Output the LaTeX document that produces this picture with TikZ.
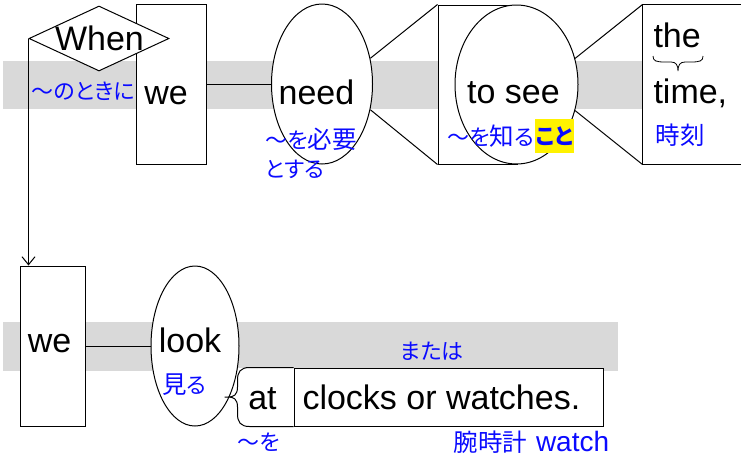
\documentclass[tikz,border=0pt]{standalone}
\usepackage{fontspec}
\setmainfont{Liberation Sans}
\newfontfamily\jpfont[RawFeature=+palt]{Noto Sans CJK JP}
\newcommand\kj[1]{{\fontsize{24.5}{28}\selectfont #1}}
\usetikzlibrary{shapes.geometric,calc,arrows.meta}
\definecolor{bandgray}{RGB}{217,217,217}
\definecolor{jpblue}{RGB}{10,10,255}
\begin{document}
\begin{tikzpicture}[x=1pt,y=-1pt, line width=1pt,
  en/.style={font=\fontsize{34}{40}\selectfont, inner sep=0pt, anchor=base},
  jp/.style={font=\jpfont\fontsize{22}{26}\selectfont, text=jpblue, inner sep=0pt, anchor=west},
  box/.style={draw, fill=white, rectangle, inner sep=0pt},
  oval/.style={draw, fill=white, ellipse, inner sep=0pt},
  plain/.style={rectangle, fill=white, inner sep=0pt}]
\useasboundingbox (0,0) rectangle (741,459);
% bands
\fill[bandgray] (3,61) rectangle (741,109);
\fill[bandgray] (3,322) rectangle (618,371);
% upper row shapes
\node[box, minimum width=70pt, minimum height=160pt] (we1box) at (171,84) {};
\node[draw, fill=white, diamond, inner sep=0pt, minimum width=140pt, minimum height=65pt] (whenD) at (99,38.5) {};
\node[oval, minimum width=101pt, minimum height=160pt] (needE) at (322,84) {};
\node[box, minimum width=79pt, minimum height=159pt] (toseeR) at (477.5,84.5) {};
\node[oval, minimum width=123pt, minimum height=159pt] (toseeE) at (516.5,84.5) {};
\node[plain, minimum width=98pt, minimum height=159pt] (timeB) at (692,84.5) {};
\draw (timeB.north east) -- (timeB.north west) -- (timeB.south west) -- (timeB.south east);
% upper connectors
\draw (we1box.east) -- (needE.west);
\draw (needE.28) -- (toseeR.north west);
\draw (needE.-28) -- (toseeR.south west);
\draw (toseeE.24) -- (timeB.north west);
\draw (toseeE.-24) -- (timeB.south west);
% lower row shapes
\node[box, minimum width=65pt, minimum height=160pt] (we2box) at (52.5,346) {};
\node[oval, minimum width=88pt, minimum height=160pt] (lookE) at (195,346) {};
\node[plain, minimum width=56pt, minimum height=58pt] (atB) at (266,397) {};
\node[box, minimum width=309pt, minimum height=58pt] (clkB) at (448.5,397) {};
\draw (we2box.east) -- (lookE.west);
\draw[-{Straight Barb[length=8pt,width=13pt]}] (whenD.west) -- (whenD.west |- we2box.north);
\draw (clkB.north west) -- ($(atB.north west)+(12,0)$)
  .. controls +(-9,0) and +(0,-8) .. ($(atB.west)+(0,-17)$)
  -- ($(atB.west)+(0,-10)$)
  .. controls +(0,8) and +(5,0) .. ($(atB.west)+(-9,0)$)
  -- ++(-4,0) -- ++(4,0)
  .. controls +(5,0) and +(0,-8) .. ($(atB.west)+(0,10)$)
  -- ($(atB.west)+(0,17)$)
  .. controls +(0,8) and +(-9,0) .. ($(atB.south west)+(12,0)$)
  -- (clkB.south west);
% brace under "the"
\draw[line width=0.8pt] (653,56) .. controls (653,61) and (656,62) .. (665,62) -- (671,62)
  .. controls (676,62) and (678,65) .. (678,71)
  .. controls (678,65) and (680,62) .. (685,62) -- (691,62)
  .. controls (700,62) and (703,61) .. (703,56);
% English texts
\node[en] (tWhen) at (99.5,50) {When};
\node[en] (tWe1) at (166,104) {we};
\node[en] (tNeed) at (316.5,104) {need};
\node[en] (tToSee) at (513.5,103) {to see};
\node[en, anchor=base west] (tThe) at (653,47) {the};
\node[en, anchor=base west] (tTime) at (653,103) {time,};
\node[en] (tWe2) at (49.5,352) {we};
\node[en] (tLook) at (190,352) {look};
\node[en] (tAt) at (262.5,409) {at};
\node[en, anchor=base west] (tClocks) at (302,409) {clocks or watches.};
% Japanese texts
\node[jp] (jToki) at (31,91) {〜のときに};
\node[jp] (jHitsuyo) at (265,139.5) {〜を\kj{必要}};
\node[jp] (jSuru) at (265,169) {とする};
\node[jp] (jShiru) at (447,136) {〜を\kj{知}る};
\node[jp, font=\jpfont\fontsize{22}{26}\selectfont\bfseries, fill=yellow, minimum height=34pt, inner xsep=1pt] (jKoto) at (jShiru.east) {こと};
\node[jp] (jJikoku) at (655,135.5) {\kj{時刻}};
\node[jp] (jMiru) at (162,385) {\kj{見}る};
\node[jp] (jWo) at (237,442) {〜を};
\node[jp] (jMataha) at (400,351) {または};
\node[jp] (jWatch) at (453,442) {\kj{腕時計}\hspace{9pt}{\rmfamily\fontsize{28}{30}\selectfont watch}};
\end{tikzpicture}
\end{document}
